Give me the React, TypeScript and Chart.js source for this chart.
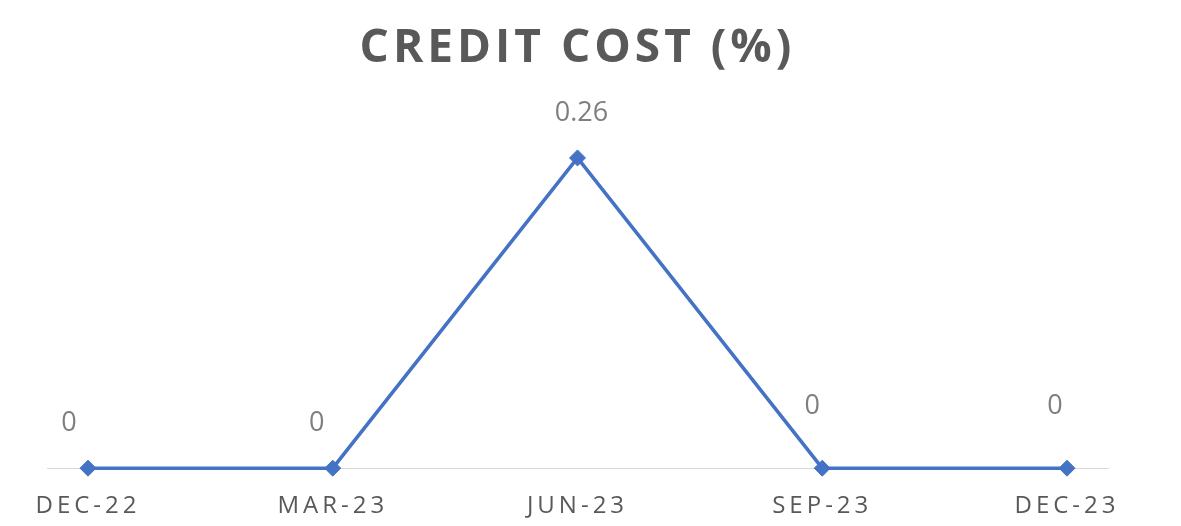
import React, { useEffect, useRef } from "react";
import { Chart, registerables } from "chart.js";

Chart.register(...registerables);

const categories = ["DEC-22", "MAR-23", "JUN-23", "SEP-23", "DEC-23"];
const creditCost = [0, 0, 0.26, 0, 0];
const valueLabels = ["0", "0", "0.26", "0", "0"];
const labelDx = [-19, -16, 4, -10, -12];
const labelDy = [-45, -45, -45, -62, -62];

const dataLabelPlugin = {
  id: "dataLabelPlugin",
  afterDatasetsDraw(chart: any) {
    const ctx = chart.ctx;
    const meta = chart.getDatasetMeta(0);
    ctx.save();
    ctx.letterSpacing = "0px";
    ctx.font = "27px 'Open Sans'";
    ctx.fillStyle = "#7f7f7f";
    ctx.textAlign = "center";
    ctx.textBaseline = "middle";
    meta.data.forEach((pt: any, i: number) => {
      ctx.fillText(valueLabels[i], pt.x + labelDx[i], pt.y + labelDy[i]);
    });
    ctx.restore();
  },
};

const spacingPlugin = {
  id: "spacingPlugin",
  beforeDraw(chart: any) {
    chart.ctx.letterSpacing = "4px";
  },
};

export default function App() {
  const ref = useRef<HTMLCanvasElement>(null);
  useEffect(() => {
    document.body.style.margin = "0";
    const chart = new Chart(ref.current!, {
      type: "line",
      data: {
        datasets: [
          {
            data: creditCost.map((v, i) => ({ x: i, y: v })),
            borderColor: "#4472C4",
            backgroundColor: "#4472C4",
            borderWidth: 3.5,
            pointStyle: "rectRot",
            pointRadius: 8,
            pointBorderWidth: 1,
            tension: 0,
            clip: false as any,
          },
        ],
      },
      plugins: [spacingPlugin, dataLabelPlugin],
      options: {
        animation: false,
        responsive: false,
        layout: { padding: { left: 47, right: 73, bottom: -19, top: 0 } },
        plugins: {
          legend: { display: false },
          tooltip: { enabled: false },
          title: {
            display: true,
            text: "CREDIT COST (%)",
            color: "#595959",
            font: { family: "'Open Sans'", size: 46, weight: "bold", lineHeight: 1.2 },
            padding: { top: 21, bottom: 34 },
          },
        },
        scales: {
          x: {
            type: "linear",
            min: -0.1675,
            max: 4.1675,
            afterBuildTicks: (scale: any) => {
              scale.ticks = categories.map((_, i) => ({ value: i }));
            },
            grid: { display: false, drawTicks: false },
            border: { display: true, color: "#d9d9d9", width: 1 },
            ticks: {
              color: "#595959",
              font: { family: "'Open Sans'", size: 24 },
              padding: 24,
              maxRotation: 0,
              autoSkip: false,
              callback: (v: any) => categories[v as number] ?? "",
            },
          },
          y: {
            display: false,
            min: 0,
            max: 0.3,
          },
        },
      },
    });
    return () => chart.destroy();
  }, []);
  return <canvas ref={ref} width={1181} height={526} style={{ display: "block" }} />;
}
